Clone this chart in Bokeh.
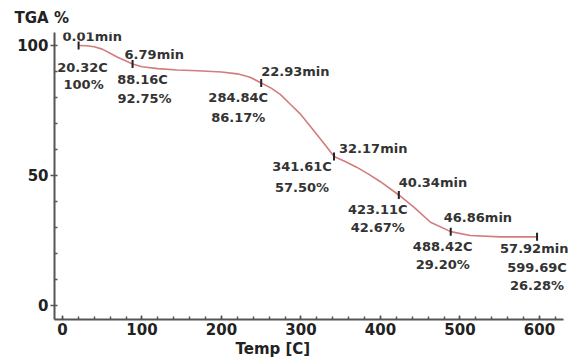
from bokeh.plotting import figure
from bokeh.models import Range1d, SingleIntervalTicker, ColumnDataSource, Title, LabelSet
from bokeh.embed import file_html
from bokeh.resources import INLINE
from bokeh.core.properties import value
import math

# TGA curve (temperature in C, weight %)
curve_temp = [20.3, 30, 40, 50, 60, 70, 80, 88.2, 100, 120, 144, 170, 200, 220, 236,
              250, 262, 274, 286, 299, 316, 331, 341.6, 355, 370, 385, 400, 423.1,
              442, 463, 488.4, 513, 551, 597]
curve_wt = [100, 99.9, 99.5, 98.6, 97.0, 95.4, 94.0, 92.9, 91.8, 91.1, 90.6, 90.3,
            89.8, 89.1, 87.8, 85.6, 83.7, 81.2, 77.6, 73.7, 67.3, 61.5, 57.3, 55.5,
            53.2, 50.5, 47.6, 42.5, 37.8, 32.0, 28.4, 26.9, 26.4, 26.4]

# marked points (positions)
mark_temp = [20.3, 88.2, 250, 341.6, 423.1, 488.4, 597]
mark_wt = [100, 92.9, 85.6, 57.3, 42.5, 28.4, 26.4]

# annotation texts
time_labels = ["0.01min", "6.79min", "22.93min", "32.17min", "40.34min", "46.86min", "57.92min"]
temp_labels = ["20.32C", "88.16C", "284.84C", "341.61C", "423.11C", "488.42C", "599.69C"]
pct_labels = ["100%", "92.75%", "86.17%", "57.50%", "42.67%", "29.20%", "26.28%"]

# pixel offsets of the annotations relative to each mark (styling; positive = down)
time_dx = [-16, -8, 0, 5, 0, -7, -37]
time_dy = [-9, -9, -11, -8, -12, -14, 12]
temp_dx = [4, 10, -23, -32, -21, -8, 0]
temp_dy = [22, 16, 15, 10, 15, 15, 31]
pct_dx = [5, 12, -23, -32, -21, -8, 0]
pct_dy = [39, 35, 35, 31, 33, 33, 49]

FONT = "DejaVu Sans"

p = figure(width=581, height=362, output_backend="svg", toolbar_location=None,
           x_range=Range1d(-10, 652.9), y_range=Range1d(-5.4, 105),
           min_border_left=54, min_border_right=0, min_border_top=32, min_border_bottom=43)
p.outline_line_color = None
p.xgrid.visible = False
p.ygrid.visible = False
p.background_fill_color = "white"
p.border_fill_color = "white"

p.title.visible = False
p.add_layout(Title(text="TGA %", align="left", offset=-40, text_font=FONT,
                   text_font_size="15px", text_font_style="bold", text_color="#222222",
                   standoff=12), "above")
p.add_layout(Title(text="Temp [C]", align="left", offset=181, text_font=FONT,
                   text_font_size="15px", text_font_style="bold", text_color="#222222",
                   standoff=0), "below")

xa = p.xaxis[0]
xa.ticker = SingleIntervalTicker(interval=100, num_minor_ticks=5)
xa.bounds = (-10, 630)
ya = p.yaxis[0]
ya.ticker = SingleIntervalTicker(interval=50, num_minor_ticks=5)
for ax in (xa, ya):
    ax.axis_line_color = "#555555"
    ax.axis_line_width = 2
    ax.major_tick_line_color = "#555555"
    ax.minor_tick_line_color = "#555555"
    ax.major_tick_line_width = 1.5
    ax.minor_tick_line_width = 1.5
    ax.major_label_text_font = FONT
    ax.major_label_text_font_size = "15px"
    ax.major_label_text_font_style = "bold"
    ax.major_label_text_color = "#222222"
    ax.minor_tick_out = 0
    ax.minor_tick_in = 3
xa.major_tick_out = 0
xa.major_tick_in = 4
xa.major_label_standoff = 3
ya.major_tick_out = 4
ya.major_tick_in = 0
ya.major_label_standoff = 2

p.line(curve_temp, curve_wt, line_color="#d27c7c", line_width=1.6)

src = ColumnDataSource(dict(x=mark_temp, y=mark_wt, t=time_labels, c=temp_labels, w=pct_labels,
                            tdx=time_dx, tdy=[-v for v in time_dy],
                            cdx=temp_dx, cdy=[-v for v in temp_dy],
                            wdx=pct_dx, wdy=[-v for v in pct_dy]))
p.scatter("x", "y", source=src, marker="dash", angle=math.pi / 2, size=8,
          line_color="#222222", line_width=2)

common = dict(x="x", y="y", source=src, text_font=value(FONT), text_font_size=value("13px"),
              text_font_style=value("bold"), text_color=value("#333333"),
              text_baseline=value("middle"))
p.add_layout(LabelSet(text="t", x_offset="tdx", y_offset="tdy", text_align=value("left"), **common))
p.add_layout(LabelSet(text="c", x_offset="cdx", y_offset="cdy", text_align=value("center"), **common))
p.add_layout(LabelSet(text="w", x_offset="wdx", y_offset="wdy", text_align=value("center"), **common))

open("out.html", "w").write(file_html(p, INLINE))
